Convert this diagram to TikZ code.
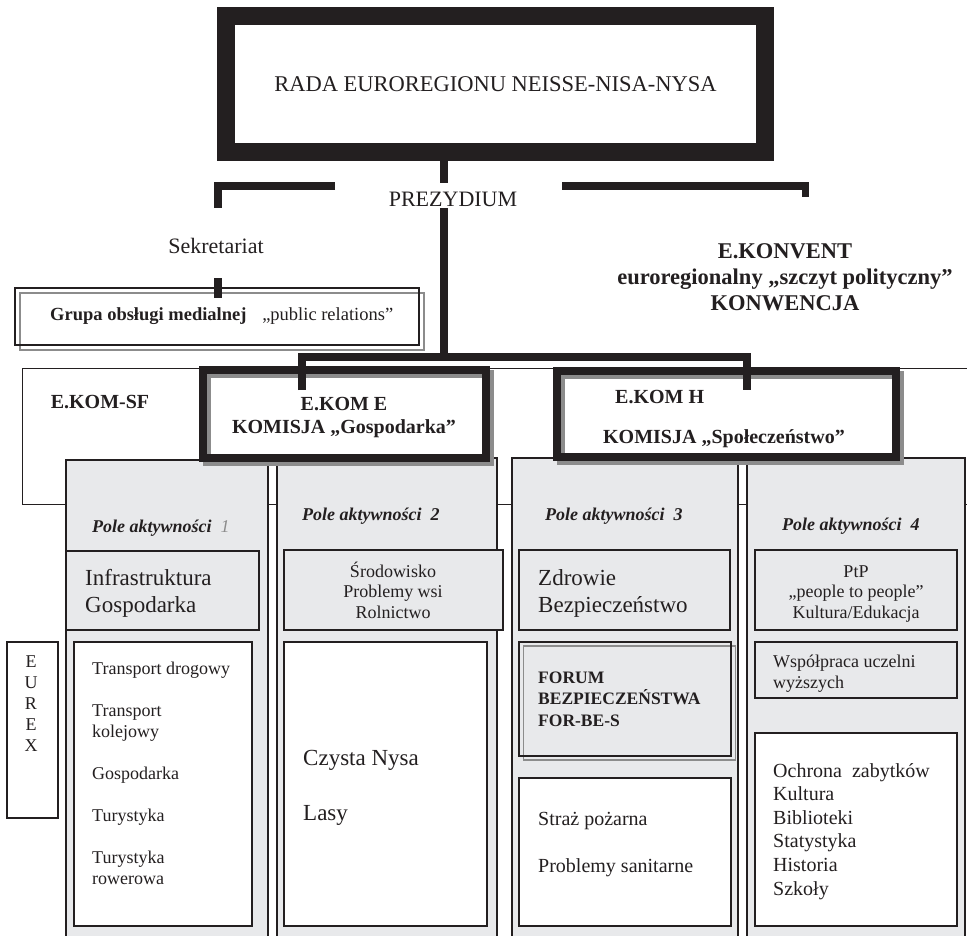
\documentclass[tikz,border=0pt]{standalone}
\usepackage{fontspec}
\setmainfont{Liberation Serif}
\usetikzlibrary{shadows}
\definecolor{ink}{RGB}{35,31,32}
\definecolor{panelgray}{RGB}{232,233,235}
\definecolor{shade}{RGB}{140,140,140}
\newcommand\setfs[2]{\fontsize{#1}{#2}\selectfont}

\begin{document}
\begin{tikzpicture}[x=1pt,y=-1pt,
    bar/.style={draw=ink, line width=7.5pt},
    box/.style={draw=ink, anchor=north west, inner sep=0pt, outer sep=0pt},
    colbox/.style={box, fill=panelgray, line width=1.2pt},
    graybox/.style={box, fill=panelgray, line width=1.3pt},
    whitebox/.style={box, fill=white, line width=1.8pt},
    kombox/.style={draw=ink, line width=8pt, inner sep=0pt,
      preaction={fill=white},
      general shadow={draw=shade, line width=8pt, shadow xshift=4pt, shadow yshift=-4pt}},
    txt/.style={inner sep=0pt, text=ink},
    head/.style={txt, font=\setfs{20}{23}\bfseries},
    poletxt/.style={txt, anchor=base west, font=\setfs{18}{21}\bfseries\itshape}]
  \useasboundingbox (0,0) rectangle (967,935);

  \node[draw=ink, line width=18pt, minimum width=539, minimum height=136, inner sep=0pt,
    font=\setfs{22.5}{27}, text=ink] (rada) at (495.5,84) {RADA EUROREGIONU NEISSE-NISA-NYSA};
  \node[txt, anchor=base, font=\setfs{22}{26}] (prez) at (453,206) {PREZYDIUM};
  \node[txt, anchor=base, font=\setfs{22}{26}] (sekr) at (216,253) {Sekretariat};
  \node[txt, anchor=base, align=center, font=\setfs{22.5}{26}\bfseries] (konw) at (785,310)
    {E.KONVENT\\euroregionalny „szczyt polityczny”\\KONWENCJA};

  \node[box, line width=1.2pt, minimum width=404, minimum height=57,
    general shadow={draw=shade, line width=1.2pt, shadow xshift=5pt, shadow yshift=-5pt}]
    (grupa) at (15,288) {};
  \node[txt, anchor=base west, font=\setfs{18.5}{21}] (grupatxt) at (50,320)
    {\textbf{Grupa obsługi medialnej}\hspace{0.6em} „public relations”};

  \node[box, line width=1pt, minimum width=960, minimum height=136] (sf) at (22,368) {};
  \node[head, anchor=base] (sftxt) at (100,408) {E.KOM-SF};

  \node[colbox, minimum width=202, minimum height=480] (pole1) at (66,460) {};
  \node[colbox, minimum width=220, minimum height=482] (pole2) at (277,458) {};
  \node[colbox, minimum width=226, minimum height=482] (pole3) at (512,458) {};
  \node[colbox, minimum width=218, minimum height=482] (pole4) at (747,458) {};

  \node[kombox, minimum width=283, minimum height=88] (ekome) at (344,413.5) {};
  \node[head, anchor=base, align=center] (ekometxt) at (344,433) {E.KOM E\\KOMISJA „Gospodarka”};
  \node[kombox, minimum width=339, minimum height=86] (ekomh) at (726,413.5) {};
  \node[head, anchor=base west] (ekomhtxt) at (615,403) {E.KOM H};
  \node[head, anchor=base] (ekomhsub) at (724,443) {KOMISJA „Społeczeństwo”};

  \node[poletxt] (pole1txt) at (92,532) {Pole aktywności~~{\mdseries\color{shade}1}};
  \node[poletxt] (pole2txt) at (302,520) {Pole aktywności~~2};
  \node[poletxt] (pole3txt) at (545,520) {Pole aktywności~~3};
  \node[poletxt] (pole4txt) at (782,530) {Pole aktywności~~4};

  \node[graybox, minimum width=193, minimum height=79] (infra) at (66,551) {};
  \node[txt, anchor=base west, align=left, font=\setfs{23}{27}] (infratxt) at (85,612)
    {Infrastruktura\\Gospodarka};
  \node[graybox, minimum width=219, minimum height=80] (srod) at (284,550) {};
  \node[txt, anchor=base, align=center, font=\setfs{18}{20.5}] (srodtxt) at (393,618)
    {Środowisko\\Problemy wsi\\Rolnictwo};
  \node[graybox, minimum width=211, minimum height=80] (zdrow) at (519,550) {};
  \node[txt, anchor=base west, align=left, font=\setfs{23}{27}] (zdrowtxt) at (538,612)
    {Zdrowie\\Bezpieczeństwo};
  \node[graybox, minimum width=202, minimum height=80] (ptp) at (755,550) {};
  \node[txt, anchor=base, align=center, font=\setfs{18}{20.5}] (ptptxt) at (856,618)
    {PtP\\„people to people”\\Kultura/Edukacja};

  \node[box, fill=white, line width=1.4pt, minimum width=51, minimum height=176] (eurex) at (7,642) {};
  \node[txt, anchor=base, align=center, font=\setfs{18}{21}] (eurextxt) at (31,751) {E\\U\\R\\E\\X};

  \node[whitebox, minimum width=178, minimum height=284] (list1) at (74,642) {};
  \node[txt, anchor=base west, align=left, font=\setfs{18}{21}] (list1txt) at (92,884)
    {Transport drogowy\\[21pt]Transport\\kolejowy\\[21pt]Gospodarka\\[21pt]Turystyka\\[21pt]Turystyka\\rowerowa};
  \node[whitebox, minimum width=203, minimum height=284] (list2) at (284,642) {};
  \node[txt, anchor=base west, align=left, font=\setfs{23}{27}] (list2txt) at (303,820)
    {Czysta Nysa\\[28pt]Lasy};

  \node[box, line width=1.4pt, minimum width=212, minimum height=114,
    preaction={fill=panelgray},
    general shadow={draw=shade, line width=1.4pt, shadow xshift=4.5pt, shadow yshift=-4pt}]
    (forum) at (519,642) {};
  \node[txt, anchor=base west, align=left, font=\setfs{17.5}{21.5}\bfseries] (forumtxt) at (538,726)
    {FORUM\\BEZPIECZEŃSTWA\\FOR-BE-S};
  \node[whitebox, line width=2.4pt, minimum width=212, minimum height=148] (list3) at (519,778) {};
  \node[txt, anchor=base west, align=left, font=\setfs{20}{23.5}] (list3txt) at (538,872)
    {Straż pożarna\\[23.5pt]Problemy sanitarne};

  \node[graybox, minimum width=202, minimum height=56] (wsp) at (755,642) {};
  \node[txt, anchor=base west, align=left, font=\setfs{18}{21}] (wsptxt) at (773,688)
    {Współpraca uczelni\\wyższych};
  \node[whitebox, minimum width=202, minimum height=193] (list4) at (755,733) {};
  \node[txt, anchor=base west, align=left, font=\setfs{20}{23.6}] (list4txt) at (773,895)
    {Ochrona~~zabytków\\Kultura\\Biblioteki\\Statystyka\\Historia\\Szkoły};

  \coordinate (spine) at (444,357);
  \coordinate (lbar) at (335,186);
  \coordinate (sekrtop) at (218,208);
  \coordinate (rbar) at (562,186);
  \coordinate (konwtop) at (805.5,197);
  \coordinate (stube) at (302,390);
  \coordinate (stubh) at (747,390);
  \draw[bar] (rada.south -| spine) -- ++(0,22);
  \draw[bar] ([yshift=-2pt]prez.south -| spine) -- (spine);
  \draw[bar] (stube) |- (spine) -| (stubh);
  \draw[bar] (lbar) -| (sekrtop);
  \draw[bar] (rbar) -| (konwtop);
  \draw[bar] ([yshift=10pt]grupa.north -| sekrtop) -- ([yshift=-10pt]grupa.north -| sekrtop);
\end{tikzpicture}
\end{document}
